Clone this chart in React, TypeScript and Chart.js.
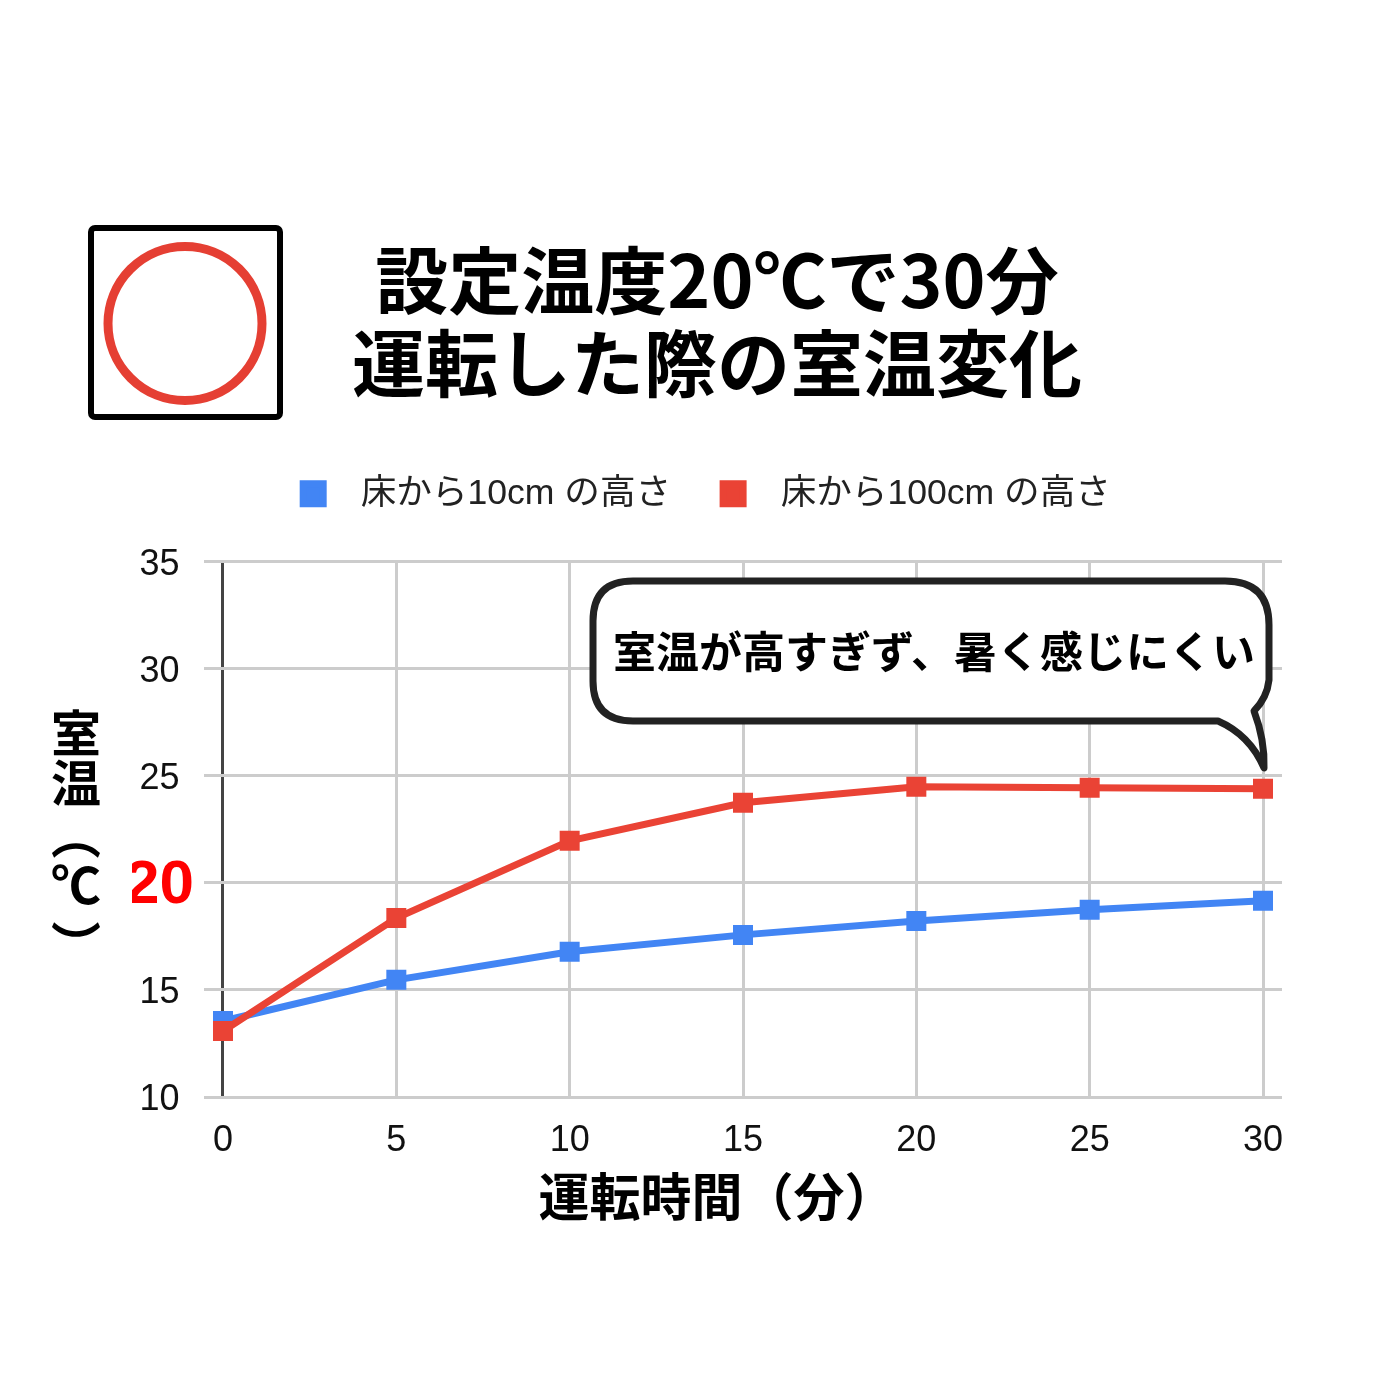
import React, { useEffect, useRef } from 'react';
import { Chart, registerables } from 'chart.js';

Chart.register(...registerables);

const minutes = [0, 5, 10, 15, 20, 25, 30];
const low = [13.55, 15.47, 16.78, 17.57, 18.22, 18.74, 19.16];
const high = [13.08, 18.36, 21.96, 23.74, 24.49, 24.44, 24.39];
const yTicks = [10, 15, 20, 25, 30, 35];
const titleLines = ['設定温度20℃で30分', '運転した際の室温変化'];
const xTitle = '運転時間（分）';
const yTitleChars = ['室', '温', '（', '℃', '）'];
const bubbleText = '室温が高すぎず、暑く感じにくい';
const legendLow = '  床から10cm の高さ';
const legendHigh = '  床から100cm の高さ';

const JP = '"Noto Sans CJK JP"';
const LATIN = '"Liberation Sans", "Noto Sans CJK JP"';
const BLUE = '#4285F4';
const RED = '#EA4335';
const GRID = '#CCCCCC';

// everything that is not a scale or a legend: heading, icon, axis titles, callout
const annotations = {
  id: 'annotations',
  afterDraw(chart: Chart) {
    const ctx = chart.ctx;
    ctx.save();
    ctx.textBaseline = 'middle';
    ctx.textAlign = 'center';
    ctx.fillStyle = '#000';

    // icon
    ctx.strokeStyle = '#000';
    ctx.lineWidth = 6;
    ctx.beginPath();
    ctx.roundRect(91, 228, 189, 189, 4);
    ctx.stroke();
    ctx.strokeStyle = '#E53F33';
    ctx.lineWidth = 9;
    ctx.beginPath();
    ctx.arc(185, 323.5, 77, 0, Math.PI * 2);
    ctx.stroke();

    // heading
    ctx.font = `bold 73px ${JP}`;
    ctx.fillText(titleLines[0], 717, 280);
    ctx.fillText(titleLines[1], 717, 363);

    // axis titles
    ctx.font = `bold 51px ${JP}`;
    ctx.fillText(xTitle, 717, 1197);
    ctx.font = `bold 50px ${JP}`;
    yTitleChars.forEach((ch, i) => {
      ctx.save();
      ctx.translate(76, 733 + i * 50 + (i > 1 ? 2 : 0) + (ch === '）' ? 10 : 0));
      if (ch === '（' || ch === '）') ctx.rotate(Math.PI / 2);
      ctx.fillText(ch, 0, 0);
      ctx.restore();
    });

    // callout
    ctx.beginPath();
    ctx.moveTo(633, 581);
    ctx.lineTo(1225, 581);
    ctx.quadraticCurveTo(1269, 581, 1269, 625);
    ctx.lineTo(1269, 680);
    ctx.quadraticCurveTo(1267, 698, 1254, 711);
    ctx.quadraticCurveTo(1265, 740, 1264, 768);
    ctx.quadraticCurveTo(1250, 735, 1218, 721);
    ctx.lineTo(633, 721);
    ctx.quadraticCurveTo(593, 721, 593, 681);
    ctx.lineTo(593, 621);
    ctx.quadraticCurveTo(593, 581, 633, 581);
    ctx.closePath();
    ctx.fillStyle = '#fff';
    ctx.fill();
    ctx.strokeStyle = '#222';
    ctx.lineWidth = 7;
    ctx.lineJoin = 'round';
    ctx.stroke();
    ctx.fillStyle = '#000';
    ctx.font = `bold 43px ${JP}`;
    ctx.fillText(bubbleText, 934, 652);
    ctx.restore();
  },
};

export default function App() {
  const canvasRef = useRef<HTMLCanvasElement>(null);

  useEffect(() => {
    const ctx = canvasRef.current?.getContext('2d');
    if (!ctx) return;

    const chart = new Chart(ctx, {
      type: 'line',
      data: {
        labels: minutes,
        datasets: [
          {
            label: legendLow,
            data: minutes.map((x, i) => ({ x, y: low[i] })),
            borderColor: BLUE,
            backgroundColor: BLUE,
            borderWidth: 7,
            pointStyle: 'rect',
            pointRadius: 14.14,
            pointBorderWidth: 0,
            order: 1,
          },
          {
            label: legendHigh,
            data: minutes.map((x, i) => ({ x, y: high[i] })),
            borderColor: RED,
            backgroundColor: RED,
            borderWidth: 7,
            pointStyle: 'rect',
            pointRadius: 14.14,
            pointBorderWidth: 0,
            order: 0,
          },
        ],
      },
      options: {
        responsive: false,
        animation: false,
        devicePixelRatio: 1,
        layout: { padding: { left: 132, right: 118, top: 424, bottom: 243 } },
        plugins: {
          tooltip: { enabled: false },
          legend: {
            position: 'top',
            labels: {
              boxWidth: 20,
              boxHeight: 20,
              padding: 52,
              color: '#222',
              font: { family: LATIN, size: 35.6 },
              sort: (a: any, b: any) => a.datasetIndex - b.datasetIndex,
            },
          },
        },
        scales: {
          x: {
            type: 'linear',
            min: -0.548,
            max: 30.548,
            afterBuildTicks: (axis: any) => {
              axis.ticks = minutes.map((value) => ({ value }));
            },
            afterFit: (axis: any) => {
              axis.height = 60;
            },
            border: { display: false },
            grid: {
              drawTicks: false,
              lineWidth: 3,
              color: (c: any) => (c.tick?.value === 0 ? '#444444' : GRID),
            },
            ticks: {
              autoSkip: false,
              maxRotation: 0,
              padding: 22,
              color: '#111',
              font: { family: LATIN, size: 36 },
            },
          },
          // empty axis, only keeps the gap between the legend and the plot
          spacer: {
            type: 'linear',
            axis: 'x',
            position: 'top',
            afterFit: (axis: any) => {
              axis.height = 40;
            },
            border: { display: false },
            grid: { display: false },
            ticks: { display: false },
          },
          y: {
            min: yTicks[0],
            max: yTicks[yTicks.length - 1],
            afterFit: (axis: any) => {
              axis.width = 72;
            },
            border: { display: false },
            grid: { drawTicks: false, lineWidth: 3, color: GRID },
            ticks: {
              stepSize: 5,
              padding: 10,
              labelOffset: 3,
              crossAlign: 'center',
              color: (c: any) => (c.tick?.value === 20 ? '#FF0000' : '#111'),
              font: (c: any) =>
                c.tick?.value === 20
                  ? { family: LATIN, size: 62, weight: 'bold' }
                  : { family: LATIN, size: 36 },
            },
          },
        },
      },
      plugins: [annotations],
    });

    return () => chart.destroy();
  }, []);

  return (
    <div style={{ position: 'absolute', left: 0, top: 0, width: 1400, height: 1400, background: '#fff' }}>
      <canvas ref={canvasRef} width={1400} height={1400} style={{ display: 'block' }} />
    </div>
  );
}
